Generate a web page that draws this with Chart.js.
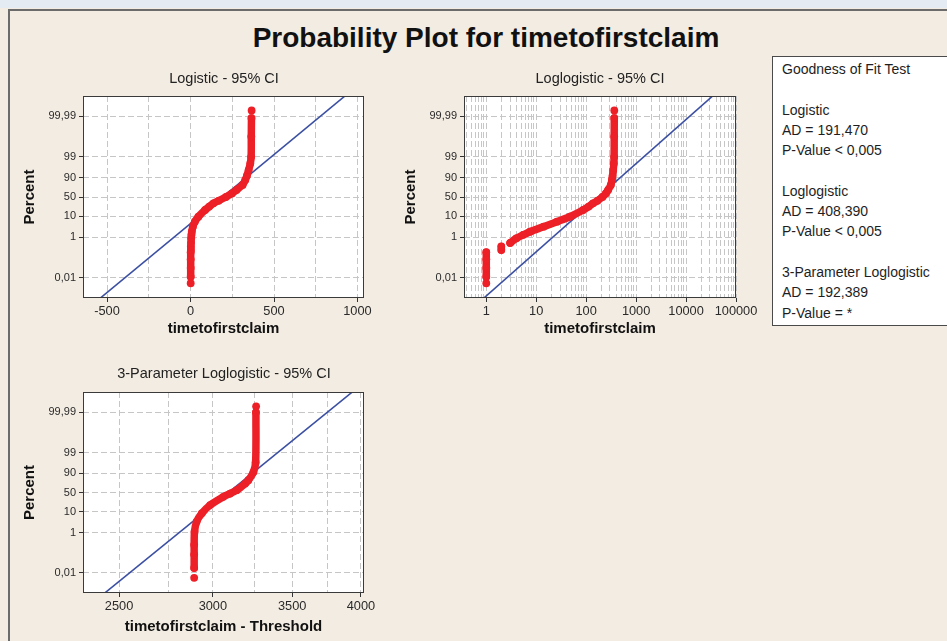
<!DOCTYPE html>
<html>
<head>
<meta charset="utf-8">
<script src="https://cdn.jsdelivr.net/npm/chart.js@4.4.1/dist/chart.umd.min.js"></script>
<style>
html,body{margin:0;padding:0;}
body{width:947px;height:641px;overflow:hidden;position:relative;background:#f3ece2;font-family:"Liberation Sans",Arial,sans-serif;}
#strip{position:absolute;left:0;top:0;width:947px;height:8px;background:#e4ebf2;}
#frame{position:absolute;left:8px;top:9px;width:960px;height:660px;border-left:2px solid #6b6b6b;border-top:2px solid #6b6b6b;}
#title{position:absolute;left:0;top:21px;width:972px;text-align:center;font:bold 28px "Liberation Sans",Arial,sans-serif;line-height:34px;color:#111;}
canvas{position:absolute;}
#c1{left:10px;top:60px;}
#c2{left:390px;top:60px;}
#c3{left:10px;top:355px;}
#gof{position:absolute;left:772px;top:56px;width:200px;height:270px;box-sizing:border-box;border:1px solid #4a4a4a;background:#fff;z-index:5;font:14px "Liberation Sans",Arial,sans-serif;line-height:20.3px;padding:2px 0 0 9px;color:#1e1e1e;white-space:nowrap;}
#gof div{height:20.3px;}
</style>
</head>
<body>
<div id="strip"></div>
<div id="frame"></div>
<div id="title">Probability Plot for timetofirstclaim</div>
<canvas id="c1" width="428" height="280"></canvas>
<canvas id="c2" width="420" height="280"></canvas>
<canvas id="c3" width="428" height="286"></canvas>
<div id="gof">
<div>Goodness of Fit Test</div><div></div>
<div>Logistic</div><div>AD = 191,470</div><div>P-Value &lt; 0,005</div><div></div>
<div>Loglogistic</div><div>AD = 408,390</div><div>P-Value &lt; 0,005</div><div></div>
<div>3-Parameter Loglogistic</div><div>AD = 192,389</div><div>P-Value = *</div>
</div>
<script>
// ---- axis ticks ----
const yTickPercents = [0.01, 1, 10, 50, 90, 99, 99.99];
const yTickLabels = ['0,01', '1', '10', '50', '90', '99', '99,99'];

const logisticTicks = [-500, -250, 0, 250, 500, 750, 1000];
const logisticTickLabels = ['-500', '', '0', '', '500', '', '1000'];

const loglogDecades = [1, 10, 100, 1000, 10000, 100000];
const loglogDecadeLabels = ['1', '10', '100', '1000', '10000', '100000'];
const loglogMinorMultipliers = [1, 2, 3, 4, 5, 6, 7, 8, 9];

const threeParTicks = [2500, 2750, 3000, 3250, 3500, 3750, 4000];
const threeParTickLabels = ['2500', '', '3000', '', '3500', '', '4000'];

// ---- observed data (days, cumulative percent); null = gap between plotted runs ----
const claimDays = [1, null, 1, 1, 1, 1, null, 2, 2, null, 3, 4, 5.5, 7.5, 14, 26, 47, 87, 112, 137, 170, 212, 248, 275, 312, 328, 338, 348, 358, 363, 364, 365, null, 366];
const claimPercents = [0.0052, null, 0.011, 0.03, 0.08, 0.18, null, 0.23, 0.35, null, 0.52, 0.88, 1.3, 1.85, 3.25, 5.6, 9.5, 18.4, 25, 32.7, 40, 50, 60, 69, 80, 87.5, 92, 95.6, 97.9, 99, 99.9, 99.988, null, 99.995];

// 3-parameter panel: timetofirstclaim - Threshold
const shiftedDays = [2893, null, 2893, 2893, 2893, 2895, 2907, 2936, 2984, 3061, 3102, 3142, 3194, 3214, 3246, 3260, 3262, null, 3263];
const shiftedPercents = [0.0055, null, 0.017, 0.08, 0.245, 1.1, 3.4, 8.4, 19, 37.7, 47, 56.5, 73.6, 80.3, 91.3, 97, 99.99, null, 99.995];

// ---- fitted distribution lines ----
const logisticFitDays = [-537, 922];
const loglogFitDays = [0.915, 33400];
const threeParFitDays = [2434, 3930];
const fitPercents = [0.001, 99.999];

// ---- helpers ----
const RED = '#ed1f27';
const BLUE = '#3b4fa3';
const GRID = '#c6c6c6';
const FONT = '"Liberation Sans", Arial, sans-serif';
const logit = p => (p == null ? null : Math.log((p / 100) / (1 - p / 100)));
const pts = (xs, ps) => xs.map((x, i) => ({ x: x, y: logit(ps[i]) }));

const loglogTicks = [], loglogTickLabels = [];
[0.1].concat(loglogDecades).forEach(d => loglogMinorMultipliers.forEach(m => {
  const v = +(m * d).toPrecision(3);
  if (v >= 0.4 && v <= 100000) {
    loglogTicks.push(v);
    const k = loglogDecades.indexOf(v);
    loglogTickLabels.push(k >= 0 ? loglogDecadeLabels[k] : '');
  }
}));

const framePlugin = {
  id: 'plotFrame',
  beforeDraw(chart) {
    const { ctx, chartArea: a } = chart;
    ctx.save();
    ctx.fillStyle = '#ffffff';
    ctx.fillRect(a.left, a.top, a.right - a.left, a.bottom - a.top);
    ctx.restore();
  },
  afterDraw(chart) {
    const { ctx, chartArea: a } = chart;
    ctx.save();
    ctx.strokeStyle = '#3a3a3a';
    ctx.lineWidth = 1;
    ctx.strokeRect(a.left + 0.5, a.top + 0.5, a.right - a.left - 1, a.bottom - a.top - 1);
    ctx.restore();
  }
};

function makePanel(id, o) {
  const xLabelAt = v => { const i = o.xTicks.indexOf(v); return i >= 0 ? o.xTickLabels[i] : ''; };
  return new Chart(document.getElementById(id), {
    type: 'scatter',
    data: {
      datasets: [
        {
          data: pts(o.dataX, o.dataP), showLine: true, spanGaps: false, xAxisID: 'x', yAxisID: 'y',
          borderColor: RED, borderWidth: 7.5, borderCapStyle: 'round', borderJoinStyle: 'round', tension: 0.3,
          pointRadius: 3.9, pointBackgroundColor: RED, pointBorderWidth: 0, order: 0, clip: 0
        },
        {
          data: pts(o.fitX, fitPercents), showLine: true, xAxisID: 'x', yAxisID: 'y',
          borderColor: BLUE, borderWidth: 1.5, pointRadius: 0, order: 1, clip: 0
        }
      ]
    },
    options: {
      responsive: false, animation: false, devicePixelRatio: 1, events: [],
      layout: { padding: 0 },
      plugins: {
        legend: { display: false }, tooltip: { enabled: false },
        title: {
          display: true, text: o.title, color: '#222',
          font: { family: FONT, size: 14.5, weight: 'normal', lineHeight: 1.2 },
          padding: { top: 10.6, bottom: o.titlePadB }
        }
      },
      scales: {
        x: {
          type: o.xType, min: o.xMin, max: o.xMax,
          afterBuildTicks: s => { s.ticks = o.xTicks.map(v => ({ value: v })); },
          afterFit: s => { s.height = o.xAxisH; s.paddingLeft = 0; s.paddingRight = 0; },
          ticks: {
            autoSkip: false, maxRotation: 0, minRotation: 0, padding: 1.5, color: '#2a2a2a',
            font: { family: FONT, size: 12.8 },
            callback: (v, i) => o.xTickLabels[i]
          },
          grid: {
            color: GRID, lineWidth: 1, tickLength: 4, tickWidth: 1, tickBorderDash: [],
            tickColor: c => (c.tick && xLabelAt(c.tick.value) !== '') ? '#333' : 'rgba(0,0,0,0)'
          },
          border: { display: false, dash: [6, 3] },
          title: {
            display: true, text: o.xTitle, color: '#111',
            font: { family: FONT, size: 15, weight: 'bold', lineHeight: 1.2 },
            padding: { top: 0, bottom: o.xTitlePadB }
          }
        },
        y: {
          type: 'linear', position: 'left', min: -11.55, max: 11.55,
          afterBuildTicks: s => { s.ticks = yTickPercents.map(p => ({ value: logit(p) })); },
          afterFit: s => { s.width = o.yAxisW; s.paddingTop = 0; s.paddingBottom = 0; },
          ticks: {
            autoSkip: false, padding: 3, color: '#2a2a2a',
            font: { family: FONT, size: 11 },
            callback: (v, i) => yTickLabels[i]
          },
          grid: { color: GRID, lineWidth: 1, tickLength: 4, tickWidth: 1, tickBorderDash: [], tickColor: '#333' },
          border: { display: false, dash: [6, 3] },
          title: {
            display: true, text: 'Percent', color: '#111',
            font: { family: FONT, size: 15, weight: 'bold', lineHeight: 1.2 },
            padding: { top: o.yTitlePadT, bottom: 0 }
          }
        },
        // empty right margin so the panel title centres over the plot area
        yMargin: {
          type: 'linear', position: 'right', min: 0, max: 1,
          afterFit: s => { s.width = o.rightW; s.paddingTop = 0; s.paddingBottom = 0; },
          ticks: { display: false },
          grid: { display: false, drawTicks: false },
          border: { display: false }
        }
      }
    },
    plugins: [framePlugin]
  });
}

makePanel('c1', {
  title: 'Logistic - 95% CI', xTitle: 'timetofirstclaim',
  xType: 'linear', xMin: -644, xMax: 1039, xTicks: logisticTicks, xTickLabels: logisticTickLabels,
  dataX: claimDays, dataP: claimPercents, fitX: logisticFitDays,
  rightW: 74, yAxisW: 73, xAxisH: 42, titlePadB: 8, xTitlePadB: 1.7, yTitlePadT: 11
});
makePanel('c2', {
  title: 'Loglogistic - 95% CI', xTitle: 'timetofirstclaim',
  xType: 'logarithmic', xMin: 0.358, xMax: 100000, xTicks: loglogTicks, xTickLabels: loglogTickLabels,
  dataX: claimDays, dataP: claimPercents, fitX: loglogFitDays,
  rightW: 74, yAxisW: 74, xAxisH: 42, titlePadB: 8, xTitlePadB: 2.5, yTitlePadT: 12
});
makePanel('c3', {
  title: '3-Parameter Loglogistic - 95% CI', xTitle: 'timetofirstclaim - Threshold',
  xType: 'logarithmic', xMin: 2331, xMax: 4024, xTicks: threeParTicks, xTickLabels: threeParTickLabels,
  dataX: shiftedDays, dataP: shiftedPercents, fitX: threeParFitDays,
  rightW: 74, yAxisW: 73, xAxisH: 48, titlePadB: 9, xTitlePadB: 5.3, yTitlePadT: 11
});
</script>
</body>
</html>
